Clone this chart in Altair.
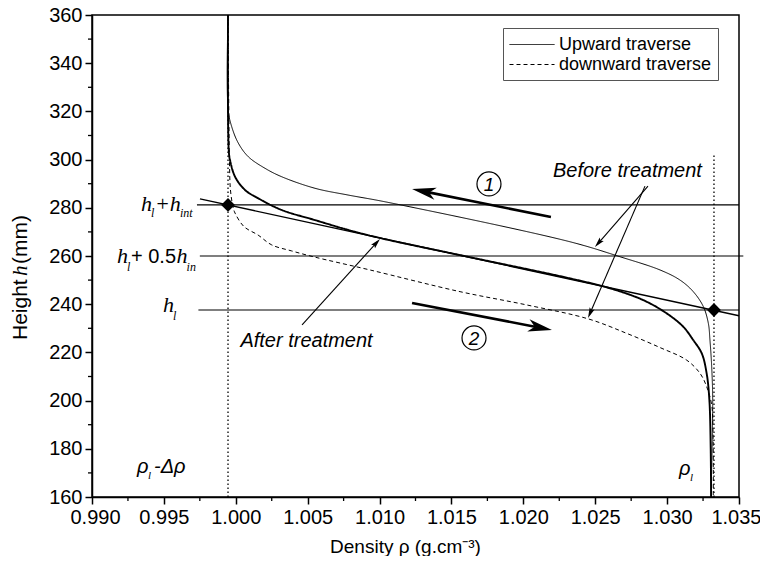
import math
import altair as alt
import pandas as pd

# ---------------- data ----------------
RHO_MIN, RHO_MAX = 0.990, 1.035
H_MIN, H_MAX = 160, 360
W, H = 647, 482
PX_X = W / (RHO_MAX - RHO_MIN)
PX_Y = H / (H_MAX - H_MIN)

x_tick_values = [0.990, 0.995, 1.000, 1.005, 1.010, 1.015, 1.020, 1.025, 1.030, 1.035]
x_minor_values = [0.9925, 0.9975, 1.0025, 1.0075, 1.0125, 1.0175, 1.0225, 1.0275, 1.0325]
y_tick_values = [160, 180, 200, 220, 240, 260, 280, 300, 320, 340, 360]
y_minor_values = [170, 190, 210, 230, 250, 270, 290, 310, 330, 350]

# upward traverse, before treatment (thin solid)
ub_rho = [0.99946, 0.99947, 0.99972, 1.00018, 1.00087, 1.00203, 1.00319, 1.00551, 1.00781,
          1.01038, 1.02325, 1.02672, 1.02951, 1.03090, 1.03182, 1.03252, 1.03287, 1.03298,
          1.03310, 1.03317, 1.03305]
ub_h = [360, 320.6, 313.6, 306.8, 301.2, 296.4, 292.9, 288.1, 285.3,
        282.5, 265.9, 259.7, 254.2, 250.0, 245.2, 239.0, 232.0, 225.1,
        214.1, 200.2, 160]

# after treatment (both traverses coincide, thick solid)
ua_rho = [0.99946, 0.99951, 0.99960, 0.99995, 1.00064, 1.00157, 1.00319, 1.00551, 1.00783,
          1.01015, 1.01629, 1.02325, 1.02603, 1.02834, 1.02997, 1.03113, 1.03182, 1.03241,
          1.03275, 1.03294, 1.03303, 1.03306]
ua_h = [360, 304.0, 299.8, 292.9, 287.4, 283.9, 279.1, 274.9, 270.8,
        267.3, 259.5, 250.7, 246.6, 241.7, 236.2, 230.6, 225.1, 219.6,
        211.3, 200.2, 180.5, 160]

# downward traverse, before treatment (dashed)
db_rho = [0.99946, 0.99956, 0.99963, 0.99981, 0.99995, 1.00057, 1.00155, 1.00250, 1.00389,
          1.00539, 1.00934, 1.01560, 1.02023, 1.02452, 1.02719, 1.02951, 1.03136, 1.03229,
          1.03275, 1.03310, 1.03319, 1.03321]
db_h = [360, 299.8, 287.4, 280.3, 277.8, 272.2, 268.7, 264.6, 262.1,
        259.7, 254.2, 245.2, 239.7, 233.9, 227.9, 222.0, 216.8, 211.3,
        205.8, 198.2, 187.8, 160]

traverse_names = ["Upward traverse", "downward traverse"]

# tangent line through the two diamonds
tan_rho = [0.99751, 1.035]
tan_h = [283.7, 235.2]
dia_rho = [0.99946, 1.03326]
dia_h = [281.2, 237.6]

# vertical dotted lines (rho_l - d rho, rho_l)
vl_rho = [0.99946, 1.03326]
vl_top = [360, 302.3]

# horizontal reference lines
hl_h = [281.2, 260.0, 237.6]
hl_x0 = [0.9973, 0.9975, 0.9974]
hl_x1 = [1.035, 1.0353, 1.035]

# arrows
arr_tail_rho = [1.02192, 1.01226, 1.02867, 1.02846, 1.00461]
arr_tail_h = [276.2, 240.5, 289.0, 289.0, 231.4]
arr_head_rho = [1.01226, 1.02199, 1.02498, 1.02450, 1.01003]
arr_head_h = [287.8, 229.3, 263.7, 234.3, 267.1]
arr_kind = ["big", "big", "thin", "thin", "thin"]

# circled numbers
circ_rho = [1.01761, 1.01657]
circ_h = [289.9, 226.0]
circ_txt = ["1", "2"]

# italic annotations
ann_txt = ["Before treatment", "After treatment"]
ann_rho = [1.02724, 1.00492]
ann_h = [292.8, 222.2]

# h-labels (serif italic main glyphs)
hmain_txt = ["h", "+h", "h", "h", "h"]
hmain_rho = [0.99341, 0.99438, 0.99174, 0.99588, 0.99494]
hmain_h = [278.7, 278.7, 257.1, 257.1, 236.8]
# subscripts
hsub_txt = ["l", "int", "l", "in", "l"]
hsub_rho = [0.99410, 0.99612, 0.99243, 0.99658, 0.99563]
hsub_h = [276.2, 276.2, 253.8, 253.8, 233.4]
# "+ 0.5" in sans
plus_txt = ["+ 0.5"]
plus_rho = [0.99271]
plus_h = [257.1]
# rho labels
rho_txt = ["ρ", "-Δρ", "ρ"]
rho_rho = [0.99313, 0.99431, 1.03083]
rho_h = [169.96, 169.96, 169.1]
rhosub_txt = ["l", "l"]
rhosub_rho = [0.99389, 1.03159]
rhosub_h = [167.5, 166.6]

# y-axis title pieces (rotated), start offsets along the axis in pixels from plot top
ytitle_txt = ["Height", "h", "(mm)"]
ytitle_font = ["Liberation Sans", "Liberation Serif", "Liberation Sans"]
ytitle_style = ["normal", "italic", "normal"]
ytitle_pos = [325, 261, 249]

# ---------------- build tables ----------------
rows = []
for name, trav, w, rr, hh in [("ub", traverse_names[0], 1.0, ub_rho, ub_h),
                              ("ua", traverse_names[0], 1.9, ua_rho, ua_h),
                              ("db", traverse_names[1], 1.0, db_rho, db_h)]:
    for i, (r, h) in enumerate(zip(rr, hh)):
        rows.append({"curve": name, "trav": trav, "w": w, "i": i, "rho": r, "h": h})
df_curves = pd.DataFrame(rows)

xs = alt.Scale(domain=[RHO_MIN, RHO_MAX], nice=False, zero=False)
ys = alt.Scale(domain=[H_MIN, H_MAX], nice=False, zero=False)

x_axis = alt.Axis(values=x_tick_values, format=".3f", tickSize=7, tickWidth=1.5,
                  labelFontSize=20, labelFont="Liberation Sans", labelPadding=3,
                  labelFlush=True, labelFlushOffset=22,
                  title="Density ρ (g.cm⁻³)", titleFont="Liberation Sans", titleFontSize=19,
                  titleFontWeight="normal", titlePadding=10, titleX=313, grid=False,
                  domainColor="black", domainWidth=1.5, tickColor="black",
                  labelColor="black", titleColor="black")
y_axis = alt.Axis(values=y_tick_values, format="d", tickSize=7, tickWidth=1.5,
                  labelFontSize=20, labelFont="Liberation Sans", labelPadding=3,
                  title=None, grid=False,
                  domainColor="black", domainWidth=1.5, tickColor="black",
                  labelColor="black", labelFlush=False)


def X(field="rho"):
    return alt.X(f"{field}:Q", scale=xs, axis=x_axis)


def Y(field="h"):
    return alt.Y(f"{field}:Q", scale=ys, axis=y_axis)


curves = alt.Chart(df_curves).mark_line(color="black", interpolate="catmull-rom").encode(
    x=X(), y=Y(),
    strokeDash=alt.StrokeDash(
        "trav:N",
        scale=alt.Scale(domain=traverse_names, range=[[1, 0], [4, 3]]),
        legend=alt.Legend(title=None, orient="none", legendX=411, legendY=13,
                          labelFontSize=18, labelFont="Liberation Sans", labelColor="black",
                          symbolType="M-1,0L3.5,0", symbolSize=400, symbolStrokeWidth=1,
                          symbolStrokeColor="black", symbolFillColor="transparent",
                          labelOffset=29, padding=6,
                          rowPadding=0, strokeColor="#555", fillColor="white",
                          labelLimit=400, cornerRadius=0)),
    strokeWidth=alt.StrokeWidth("w:Q", scale=None),
    detail="curve:N",
    order="i:Q",
)

# reference lines
df_h = pd.DataFrame({"h": hl_h, "x0": hl_x0, "x1": hl_x1})
hlines = alt.Chart(df_h).mark_rule(color="black", strokeWidth=1.2).encode(
    x=X("x0"), x2="x1:Q", y=Y("h"))

df_v = pd.DataFrame({"rho": vl_rho, "top": vl_top, "bot": [H_MIN] * len(vl_rho)})
vlines = alt.Chart(df_v).mark_rule(color="black", strokeWidth=1.3, strokeDash=[1.6, 2.4]).encode(
    x=X("rho"), y=Y("bot"), y2="top:Q")

df_tan = pd.DataFrame({"x0": [tan_rho[0]], "x1": [tan_rho[1]], "y0": [tan_h[0]], "y1": [tan_h[1]]})
tangent = alt.Chart(df_tan).mark_rule(color="black", strokeWidth=1.4).encode(
    x=X("x0"), x2="x1:Q", y=Y("y0"), y2="y1:Q")

df_dia = pd.DataFrame({"rho": dia_rho, "h": dia_h})
diamonds = alt.Chart(df_dia).mark_point(shape="diamond", filled=True, color="black",
                                        size=190, opacity=1).encode(x=X(), y=Y())

# minor ticks
df_mx = pd.DataFrame({"rho": x_minor_values})
minor_x = alt.Chart(df_mx).mark_rule(color="black", strokeWidth=1.3).encode(
    x=X("rho"), y=alt.value(H), y2=alt.value(H + 4))
df_my = pd.DataFrame({"h": y_minor_values})
minor_y = alt.Chart(df_my).mark_rule(color="black", strokeWidth=1.3).encode(
    y=Y("h"), x=alt.value(0), x2=alt.value(-4))

# arrows
arows = []
for tr, th, hr, hh, k in zip(arr_tail_rho, arr_tail_h, arr_head_rho, arr_head_h, arr_kind):
    dx = (hr - tr) * PX_X
    dy = -(hh - th) * PX_Y
    L = math.hypot(dx, dy)
    back = 12 if k == "big" else 4
    er = hr - (dx / L) * back / PX_X
    eh = hh + (dy / L) * back / PX_Y
    ang = math.degrees(math.atan2(dx, -dy)) % 360
    arows.append({"tr": tr, "th": th, "er": er, "eh": eh, "hr": hr, "hh": hh,
                  "ang": ang, "kind": k, "w": 2.6 if k == "big" else 1.1})
df_arr = pd.DataFrame(arows)
arrow_lines = alt.Chart(df_arr).mark_rule(color="black").encode(
    x=X("tr"), y=Y("th"), x2="er:Q", y2="eh:Q",
    strokeWidth=alt.StrokeWidth("w:Q", scale=None))
big_heads = alt.Chart(df_arr[df_arr.kind == "big"]).mark_point(
    shape="M0,0 L-0.62,2.4 L0,1.75 L0.62,2.4 Z", filled=True, color="black",
    size=400, opacity=1, strokeWidth=0).encode(
    x=X("hr"), y=Y("hh"), angle=alt.Angle("ang:Q", scale=None))
thin_heads = alt.Chart(df_arr[df_arr.kind == "thin"]).mark_point(
    shape="M0,0 L-0.6,2.3 L0,1.9 L0.6,2.3 Z", filled=True, color="black",
    size=81, opacity=1, strokeWidth=0).encode(
    x=X("hr"), y=Y("hh"), angle=alt.Angle("ang:Q", scale=None))

# circled numbers
df_c = pd.DataFrame({"rho": circ_rho, "h": circ_h, "t": circ_txt})
circles = alt.Chart(df_c).mark_point(shape="circle", filled=False, color="black",
                                     size=576, strokeWidth=1.2, opacity=1).encode(x=X(), y=Y())
circ_text = alt.Chart(df_c).mark_text(font="Liberation Sans", fontSize=19, fontStyle="italic",
                                      align="center", baseline="middle", dy=1,
                                      color="black").encode(x=X(), y=Y(), text="t:N")


def text_layer(txt, rr, hh, font, size, style="normal", align="left"):
    d = pd.DataFrame({"t": txt, "rho": rr, "h": hh})
    return alt.Chart(d).mark_text(font=font, fontSize=size, fontStyle=style, align=align,
                                  baseline="alphabetic", color="black").encode(
        x=X(), y=Y(), text="t:N")


ann = text_layer(ann_txt, ann_rho, ann_h, "Liberation Sans", 20, "italic", "center")
hmain = text_layer(hmain_txt, hmain_rho, hmain_h, "Liberation Serif", 22, "italic")
hsub = text_layer(hsub_txt, hsub_rho, hsub_h, "Liberation Serif", 12, "italic")
plus = text_layer(plus_txt, plus_rho, plus_h, "Liberation Sans", 20)
rholab = text_layer(rho_txt, rho_rho, rho_h, "Liberation Sans", 20, "italic")
rhosub = text_layer(rhosub_txt, rhosub_rho, rhosub_h, "Liberation Serif", 11, "italic")

# rotated y-axis title built from pieces
ytitle_layers = []
for t, f, s, p in zip(ytitle_txt, ytitle_font, ytitle_style, ytitle_pos):
    ytitle_layers.append(
        alt.Chart(pd.DataFrame({"t": [t]})).mark_text(
            font=f, fontSize=21, fontStyle=s, angle=270, align="left",
            baseline="alphabetic", color="black").encode(
            x=alt.value(-65), y=alt.value(p), text="t:N"))

chart = alt.layer(
    curves, hlines, vlines, tangent, diamonds, minor_x, minor_y,
    arrow_lines, big_heads, thin_heads, circles, circ_text,
    ann, hmain, hsub, plus, rholab, rhosub, *ytitle_layers,
).properties(
    width=W, height=H,
    padding={"left": 84, "top": 7, "right": 21, "bottom": 59},
    autosize=alt.AutoSizeParams(type="none"),
    background="white",
).configure_view(stroke="black", strokeWidth=1.5)

chart.save("out.html", embed_options={"renderer": "svg", "actions": False})
